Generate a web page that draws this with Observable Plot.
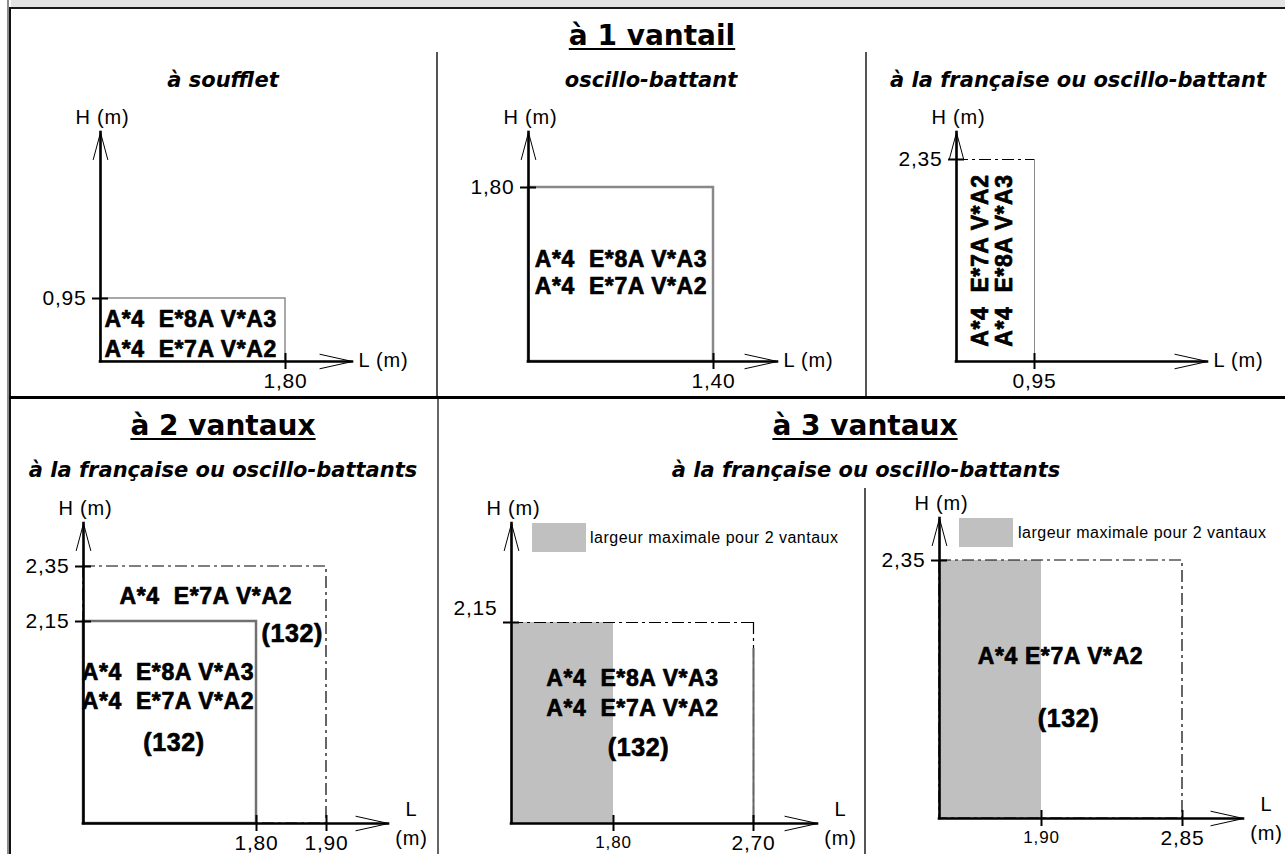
<!DOCTYPE html>
<html><head><meta charset="utf-8">
<script src="https://cdn.jsdelivr.net/npm/d3@7"></script>
<script src="https://cdn.jsdelivr.net/npm/@observablehq/plot@0.6"></script>
<style>
body{margin:0;background:#fff;}
#page{position:relative;width:1285px;height:854px;overflow:hidden;background:#fff;}
.b{position:absolute;}
.hdr{position:absolute;font-family:"DejaVu Sans",sans-serif;font-weight:bold;font-size:28px;line-height:1;white-space:nowrap;text-decoration:underline;text-decoration-thickness:2px;text-underline-offset:3px;transform:translateX(-50%);color:#000;}
.sub{position:absolute;font-family:"DejaVu Sans",sans-serif;font-weight:bold;font-style:italic;font-size:21px;line-height:1;white-space:nowrap;transform:translateX(-50%);color:#000;}
.sw{position:absolute;background:#c0c0c0;width:54px;height:29px;}
.lg{position:absolute;font-family:"Liberation Sans",Arial,sans-serif;font-size:16px;line-height:1;letter-spacing:0.5px;white-space:nowrap;color:#000;}
svg text{white-space:pre;letter-spacing:0.8px;}
svg g[font-weight="bold"] text{letter-spacing:0.6px;}
</style>
</head><body><div id="page"></div>
<script>
// ---------- data ----------
const groupTitles = ["à 1 vantail", "à 2 vantaux", "à 3 vantaux"];
const subtitles = ["à soufflet", "oscillo-battant", "à la française ou oscillo-battant",
                   "à la française ou oscillo-battants", "à la française ou oscillo-battants"];
const codes8 = "A*4  E*8A V*A3";
const codes7 = "A*4  E*7A V*A2";
const codes7single = "A*4 E*7A V*A2";
const classLabel = "(132)";
const legendLabel = "largeur maximale pour 2 vantaux";
const axisH = "H (m)";
const axisL = "L (m)";

// tick values (m): widths L and heights H for each diagram
const p1L = [1.80], p1H = [0.95];            // à soufflet
const p2L = [1.40], p2H = [1.80];            // oscillo-battant
const p3L = [0.95], p3H = [2.35];            // à la française ou oscillo-battant
const p4L = [1.80, 1.90], p4H = [2.15, 2.35]; // 2 vantaux
const p5L = [1.80, 2.70], p5H = [2.15];       // 3 vantaux (H 2,15)
const p6L = [1.90, 2.85], p6H = [2.35];       // 3 vantaux (H 2,35)

// ---------- layout (page pixels for the schematic, non-proportional axes) ----------
const layout = [
  {cell: [11, 52, 425, 344],  xEnd: 2.45, yEnd: 3.45, xPx: [100, 285, 352],        yPx: [361, 298, 132]},
  {cell: [438, 52, 427, 344], xEnd: 1.90, yEnd: 2.35, xPx: [528, 713, 777],        yPx: [361, 187, 132]},
  {cell: [867, 52, 418, 344], xEnd: 3.00, yEnd: 2.70, xPx: [956, 1034, 1207],      yPx: [361, 159, 132]},
  {cell: [11, 487, 426, 367], xEnd: 2.30, yEnd: 2.70, xPx: [83, 256, 326, 388],    yPx: [823, 621, 566, 523]},
  {cell: [439, 487, 426, 367],xEnd: 3.20, yEnd: 3.00, xPx: [511, 613, 753, 817],   yPx: [823, 622, 523]},
  {cell: [866, 487, 419, 367],xEnd: 3.20, yEnd: 2.70, xPx: [939, 1041, 1182, 1243],yPx: [818, 560, 518]}
];

const page = document.getElementById("page");
const FONT = "Liberation Sans, Arial, sans-serif";
const DASH = "12,4,3,4";
const zero = () => 0;
const C = v => () => v;
const fmt = v => v.toFixed(2).replace(".", ",");
const bold = {fontFamily: FONT, fontWeight: "bold", fontSize: 23, fill: "#000", stroke: "#000", strokeWidth: 0.7};
const bold132 = {fontFamily: FONT, fontWeight: "bold", fontSize: 25, fill: "#000", stroke: "#000", strokeWidth: 0.7};

function div(cls, style, text) {
  const d = document.createElement("div");
  d.className = cls;
  Object.assign(d.style, style);
  if (text !== undefined) d.textContent = text;
  page.appendChild(d);
  return d;
}

// frame lines
div("b", {left: "11px", top: "0px", width: "1274px", height: "7px", background: "#e3e3e3"});
div("b", {left: "9px", top: "7px", width: "1276px", height: "2px", background: "#1a1a1a"});
div("b", {left: "7px", top: "0px", width: "2px", height: "854px", background: "#8c8c8c"});
div("b", {left: "9px", top: "7px", width: "2px", height: "847px", background: "#111"});
div("b", {left: "9px", top: "396px", width: "1276px", height: "3px", background: "#000"});
div("b", {left: "436px", top: "52px", width: "2px", height: "344px", background: "#555"});
div("b", {left: "865px", top: "52px", width: "2px", height: "344px", background: "#555"});
div("b", {left: "437px", top: "399px", width: "2px", height: "455px", background: "#666"});
div("b", {left: "864px", top: "488px", width: "1.5px", height: "366px", background: "#555"});

// headings
div("hdr", {left: "652px", top: "22px"}, groupTitles[0]);
div("hdr", {left: "223px", top: "412px"}, groupTitles[1]);
div("hdr", {left: "865px", top: "412px"}, groupTitles[2]);
div("sub", {left: "223px", top: "70px"}, subtitles[0]);
div("sub", {left: "651px", top: "70px"}, subtitles[1]);
div("sub", {left: "1078px", top: "70px"}, subtitles[2]);
div("sub", {left: "223px", top: "460px"}, subtitles[3]);
div("sub", {left: "866px", top: "460px"}, subtitles[4]);

// legends
div("sw", {left: "532px", top: "523px"});
div("lg", {left: "590px", top: "530px"}, legendLabel);
div("sw", {left: "959px", top: "518px"});
div("lg", {left: "1018px", top: "525px"}, legendLabel);

function axisMarks({xEnd, yEnd, xTicks, yTicks, yLabelDy = 0, stackedL = false, smallFirstX = false}) {
  const t = {fontFamily: FONT, fill: "#000"};
  const xBig = smallFirstX ? xTicks.slice(1) : xTicks;
  const xSmall = smallFirstX ? xTicks.slice(0, 1) : [];
  return [
    Plot.ruleY([0], {x1: zero, x2: C(xEnd), stroke: "#000", strokeWidth: 2.6, strokeLinecap: "square"}),
    Plot.ruleX([0], {y1: zero, y2: C(yEnd), stroke: "#000", strokeWidth: 2.6, strokeLinecap: "square"}),
    Plot.arrow([0], {x1: zero, y1: zero, x2: C(xEnd), y2: zero, stroke: "#000", strokeWidth: 1, headLength: 50, headAngle: 25}),
    Plot.arrow([0], {x1: zero, y1: zero, x2: zero, y2: C(yEnd), stroke: "#000", strokeWidth: 1, headLength: 42, headAngle: 30}),
    Plot.ruleY(yTicks, {x1: zero, x2: zero, insetLeft: -8, insetRight: -8, stroke: "#000", strokeWidth: 2}),
    Plot.ruleX(xTicks, {y1: zero, y2: zero, insetTop: -8, insetBottom: -8, stroke: "#000", strokeWidth: 2}),
    Plot.text(yTicks, {x: zero, y: d => d, text: fmt, textAnchor: "end", dx: -14, dy: yLabelDy, fontSize: 21, ...t}),
    Plot.text(xBig, {x: d => d, y: zero, text: fmt, dy: 20, fontSize: 21, ...t}),
    Plot.text(xSmall, {x: d => d, y: zero, text: fmt, dy: 19, fontSize: 17, ...t}),
    Plot.text([axisH], {x: zero, y: C(yEnd), dx: 2, dy: -15, fontSize: 20, ...t}),
    stackedL
      ? Plot.text([axisL.replace(" ", "\n")], {x: C(xEnd), y: zero, dx: 23, dy: -2, lineHeight: 1.45, fontSize: 20, ...t})
      : Plot.text([axisL], {x: C(xEnd), y: zero, textAnchor: "start", dx: 6, dy: -1, fontSize: 20, ...t})
  ];
}

function panel(cfg, xTicks, yTicks, marks, opts = {}) {
  const [left, top, width, height] = cfg.cell;
  const svg = Plot.plot({
    width, height,
    marginTop: 0, marginRight: 0, marginBottom: 0, marginLeft: 0,
    x: {type: "linear", domain: [0, ...xTicks, cfg.xEnd], range: cfg.xPx.map(v => v - left), axis: null},
    y: {type: "linear", domain: [0, ...yTicks, cfg.yEnd], range: cfg.yPx.map(v => v - top), axis: null},
    style: {background: "transparent", overflow: "visible"},
    marks: [...marks.before, ...axisMarks({xEnd: cfg.xEnd, yEnd: cfg.yEnd, xTicks, yTicks, ...opts}), ...marks.after]
  });
  svg.style.position = "absolute";
  svg.style.left = left + "px";
  svg.style.top = top + "px";
  page.appendChild(svg);
}

// P1 : à soufflet
panel(layout[0], p1L, p1H, {
  before: [
    Plot.rect([0], {x1: zero, x2: C(p1L[0]), y1: zero, y2: C(p1H[0]), fill: "none", stroke: "#8c8c8c", strokeWidth: 1.5})
  ],
  after: [
    Plot.text([codes8 + "\n" + codes7], {x: zero, y: C(p1H[0] / 2), textAnchor: "start", dx: 4, dy: 2, lineHeight: 1.3, ...bold})
  ]
});

// P2 : oscillo-battant
panel(layout[1], p2L, p2H, {
  before: [
    Plot.rect([0], {x1: zero, x2: C(p2L[0]), y1: zero, y2: C(p2H[0]), fill: "none", stroke: "#888", strokeWidth: 2.5})
  ],
  after: [
    Plot.text([codes8 + "\n" + codes7], {x: C(p2L[0] / 2), y: C(p2H[0] / 2), dy: -3, lineHeight: 1.18, ...bold})
  ]
});

// P3 : à la française ou oscillo-battant
panel(layout[2], p3L, p3H, {
  before: [
    Plot.ruleX(p3L, {y1: zero, y2: C(p3H[0]), stroke: "#888", strokeWidth: 1}),
    Plot.ruleY(p3H, {x1: zero, x2: C(p3L[0]), stroke: "#000", strokeWidth: 1.2, strokeDasharray: DASH})
  ],
  after: [
    Plot.text([codes7 + "\n" + codes8], {x: C(p3L[0] / 2), y: C(p3H[0] / 2), rotate: -90, dx: -3, lineHeight: 1.05, ...bold})
  ]
});

// P4 : 2 vantaux
panel(layout[3], p4L, p4H, {
  before: [
    Plot.rect([0], {x1: zero, x2: C(p4L[1]), y1: zero, y2: C(p4H[1]), fill: "none", stroke: "#000", strokeWidth: 1.2, strokeDasharray: DASH}),
    Plot.rect([0], {x1: zero, x2: C(p4L[0]), y1: zero, y2: C(p4H[0]), fill: "none", stroke: "#707070", strokeWidth: 2.5})
  ],
  after: [
    Plot.text([codes7], {x: C(p4L[1] / 2), y: C((p4H[0] + p4H[1]) / 2), dx: 31, dy: 3, ...bold}),
    Plot.text([classLabel], {x: C(p4L[0]), y: C(p4H[0]), textAnchor: "start", dx: 5, dy: 12, ...bold132}),
    Plot.text([codes8 + "\n" + codes7], {x: C(p4L[0] / 2), y: C(p4H[0] / 2), dx: -2, dy: -37, lineHeight: 1.26, ...bold}),
    Plot.text([classLabel], {x: C(p4L[0] / 2), y: C(p4H[0] / 2), dx: 4, dy: 20, ...bold132})
  ]
}, {stackedL: true});

// P5 : 3 vantaux, H 2,15
panel(layout[4], p5L, p5H, {
  before: [
    Plot.rect([0], {x1: zero, x2: C(p5L[0]), y1: zero, y2: C(p5H[0]), fill: "#c0c0c0"}),
    Plot.ruleY(p5H, {x1: zero, x2: C(p5L[1]), stroke: "#000", strokeWidth: 1.2, strokeDasharray: DASH}),
    Plot.ruleX([p5L[1]], {y1: C(p5H[0]), y2: zero, stroke: "#000", strokeWidth: 1.2, strokeDasharray: DASH}),
    Plot.ruleX([p5L[1]], {y1: C(p5H[0]), y2: zero, insetTop: 26, stroke: "#666", strokeWidth: 2})
  ],
  after: [
    Plot.text([codes8 + "\n" + codes7], {x: C(p5L[0]), y: C(p5H[0] / 2), dx: 19, dy: -32, lineHeight: 1.3, ...bold}),
    Plot.text([classLabel], {x: C(p5L[0]), y: C(p5H[0] / 2), dx: 25, dy: 25, ...bold132})
  ]
}, {stackedL: true, smallFirstX: true, yLabelDy: -14});

// P6 : 3 vantaux, H 2,35
panel(layout[5], p6L, p6H, {
  before: [
    Plot.rect([0], {x1: zero, x2: C(p6L[0]), y1: zero, y2: C(p6H[0]), fill: "#c0c0c0"}),
    Plot.rect([0], {x1: zero, x2: C(p6L[1]), y1: zero, y2: C(p6H[0]), fill: "none", stroke: "#000", strokeWidth: 1.2, strokeDasharray: DASH})
  ],
  after: [
    Plot.text([codes7single], {x: C(p6L[0]), y: C(p6H[0] / 2), dx: 19, dy: -33, ...bold}),
    Plot.text([classLabel], {x: C(p6L[0]), y: C(p6H[0] / 2), dx: 27, dy: 29, ...bold132})
  ]
}, {stackedL: true, smallFirstX: true});
</script>
</body></html>
